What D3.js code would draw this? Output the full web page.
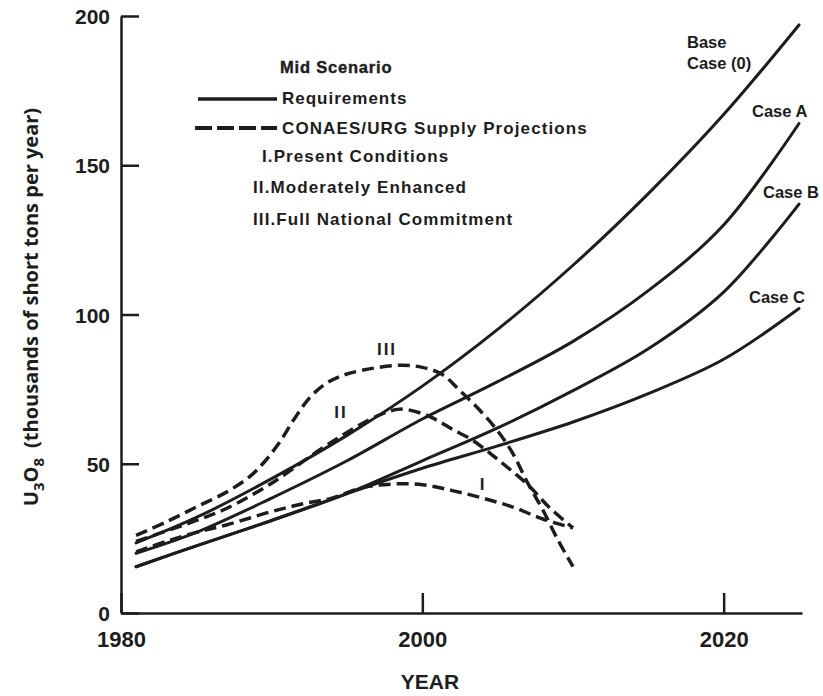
<!DOCTYPE html>
<html>
<head>
<meta charset="utf-8">
<script src="https://cdn.jsdelivr.net/npm/d3@7"></script>
<style>
  body { margin: 0; background: #fff; }
  svg { display: block; }
  text { font-family: "Liberation Sans", Arial, Helvetica, sans-serif; font-weight: bold; fill: #1d1d1d; }
</style>
</head>
<body>
<svg id="chart" width="823" height="696"></svg>
<script>
// Uranium (U3O8) requirements, mid scenario, vs. CONAES/URG supply projections
const reqYears = [1981, 1985, 1990, 1995, 2000, 2005, 2010, 2015, 2020, 2025];
const baseCase = [23.5, 32, 45, 59.5, 76, 95, 116.5, 140.5, 167, 197];
const caseA    = [20, 27, 38.5, 51, 65, 77.5, 91, 108, 130, 164];
const caseB    = [15.5, 22.5, 31, 40, 51, 62, 74.5, 88.5, 107.5, 137];
const caseC    = [15.5, 22.5, 31, 40, 48.5, 56, 64, 73.5, 85, 102];

// Supply projections
const supplyIYears   = [1981, 1983, 1985, 1987, 1990, 1992, 1994, 1996, 1998, 2000, 2002, 2004, 2006, 2008, 2010];
const supplyI        = [20.5, 24, 27, 29.5, 34, 36.5, 38.5, 42, 43.2, 43, 41, 38.5, 35.5, 31.5, 28.5];
const supplyIIYears  = [1981, 1985, 1987, 1990, 1993, 1995, 1997, 1998.5, 2000, 2001, 2002, 2003.3, 2004.5, 2005.6, 2007, 2008.4, 2010];
const supplyII       = [24, 31, 35, 43.5, 54, 60.5, 66, 68.3, 66.8, 64.5, 61.5, 58, 53.5, 49, 43, 35.5, 28.5];
const supplyIIIYears = [1981, 1983, 1985, 1987, 1988.5, 1989.5, 1990.5, 1991.5, 1992.5, 1993.5, 1994.5, 1996, 1998.5, 2000, 2001.3, 2002.5, 2003.8, 2005, 2006, 2007, 2008, 2009, 2010];
const supplyIII      = [26, 30.5, 35.5, 40.5, 45.5, 50.5, 57, 65, 72, 76.5, 79.2, 81.3, 83, 82.3, 80, 74.5, 68, 61, 53.5, 43.5, 34.5, 24.5, 15.5];

const xTicks = [1980, 2000, 2020];
const yTicks = [0, 50, 100, 150, 200];

const legendItems = ["I.Present Conditions", "II.Moderately Enhanced", "III.Full National Commitment"];

const ink = "#1d1d1d";
const svg = d3.select("#chart");

const x = d3.scaleLinear().domain([1980, 2025.2]).range([121, 802]);
const y = d3.scaleLinear().domain([0, 200]).range([613, 16]);

// Axes with inward ticks
const gx = svg.append("g")
  .attr("transform", `translate(0,${y(0)})`)
  .call(d3.axisBottom(x).tickValues(xTicks).tickSize(-20).tickSizeOuter(0).tickFormat(d3.format("d")));
gx.select(".domain").attr("stroke", ink).attr("stroke-width", 2.5);
gx.selectAll(".tick line").attr("stroke", ink).attr("stroke-width", 2.5);
gx.selectAll(".tick text").attr("y", 34).attr("dy", 0).attr("font-size", 22).attr("fill", ink);

const gy = svg.append("g")
  .attr("transform", `translate(${x(1980)},0)`)
  .call(d3.axisLeft(y).tickValues(yTicks).tickSize(-18).tickSizeOuter(0));
gy.select(".domain").attr("stroke", ink).attr("stroke-width", 2.5);
gy.selectAll(".tick line").attr("stroke", ink).attr("stroke-width", 2.5);
gy.selectAll(".tick text").attr("x", -11).attr("dy", "0.36em").attr("font-size", 21).attr("fill", ink);

// Axis titles
svg.append("text")
  .attr("x", 430).attr("y", 689)
  .attr("text-anchor", "middle")
  .attr("font-size", 21)
  .text("YEAR");

const yTitle = svg.append("text")
  .attr("transform", "translate(38,307) rotate(-90)")
  .attr("text-anchor", "middle")
  .style("font-family", "'Open Sans', 'Liberation Sans', sans-serif")
  .attr("font-size", 20);
yTitle.append("tspan").text("U");
yTitle.append("tspan").attr("dy", 6).attr("font-size", 15).text("3");
yTitle.append("tspan").attr("dy", -6).text("O");
yTitle.append("tspan").attr("dy", 6).attr("font-size", 15).text("8");
yTitle.append("tspan").attr("dy", -6).text("\u2002(thousands of short tons per year)");

// Curves
const smoothLine = d3.line()
  .x(d => x(d[0]))
  .y(d => y(d[1]))
  .curve(d3.curveCatmullRom.alpha(0.5));

const requirements = [baseCase, caseA, caseB, caseC];
svg.append("g").selectAll("path")
  .data(requirements)
  .join("path")
  .attr("d", vals => smoothLine(reqYears.map((yr, i) => [yr, vals[i]])))
  .attr("fill", "none")
  .attr("stroke", ink)
  .attr("stroke-width", 3)
  .attr("stroke-linecap", "round");

const supplies = [
  [supplyIYears, supplyI],
  [supplyIIYears, supplyII],
  [supplyIIIYears, supplyIII]
];
svg.append("g").selectAll("path")
  .data(supplies)
  .join("path")
  .attr("d", ([yrs, vals]) => smoothLine(yrs.map((yr, i) => [yr, vals[i]])))
  .attr("fill", "none")
  .attr("stroke", ink)
  .attr("stroke-width", 3.5)
  .attr("stroke-dasharray", "12,6");

// Curve labels
const caseLabels = [
  { t: "Base", x: 687, y: 48 },
  { t: "Case (0)", x: 687, y: 69 },
  { t: "Case A", x: 752, y: 117 },
  { t: "Case B", x: 763, y: 198 },
  { t: "Case C", x: 749, y: 303 }
];
svg.append("g").selectAll("text")
  .data(caseLabels)
  .join("text")
  .attr("x", d => d.x).attr("y", d => d.y)
  .attr("font-size", 16.5)
  .text(d => d.t);

const romanLabels = [
  { t: "III", x: 387, y: 355 },
  { t: "II", x: 341, y: 418 },
  { t: "I", x: 483, y: 490 }
];
svg.append("g").selectAll("text")
  .data(romanLabels)
  .join("text")
  .attr("x", d => d.x).attr("y", d => d.y)
  .attr("text-anchor", "middle")
  .attr("font-size", 17)
  .style("letter-spacing", "2px")
  .text(d => d.t);

// Legend
const lg = svg.append("g");
lg.append("text")
  .attr("x", 280).attr("y", 73)
  .attr("font-size", 16.5)
  .attr("stroke", ink).attr("stroke-width", 0.4)
  .style("letter-spacing", "0.8px")
  .text("Mid Scenario");
lg.append("line")
  .attr("x1", 198).attr("x2", 277).attr("y1", 99).attr("y2", 99)
  .attr("stroke", ink).attr("stroke-width", 3.5);
lg.append("text")
  .attr("x", 282).attr("y", 104)
  .attr("font-size", 17)
  .style("letter-spacing", "1px")
  .text("Requirements");
lg.append("line")
  .attr("x1", 195).attr("x2", 277).attr("y1", 128).attr("y2", 128)
  .attr("stroke", ink).attr("stroke-width", 4)
  .attr("stroke-dasharray", "17,5");
lg.append("text")
  .attr("x", 282).attr("y", 134)
  .attr("font-size", 17)
  .style("letter-spacing", "1.1px")
  .text("CONAES/URG Supply Projections");

const legendPos = [{ x: 262, y: 162 }, { x: 253, y: 193 }, { x: 253, y: 225 }];
lg.selectAll("text.item")
  .data(legendItems)
  .join("text")
  .attr("class", "item")
  .attr("x", (d, i) => legendPos[i].x)
  .attr("y", (d, i) => legendPos[i].y)
  .attr("font-size", 17)
  .style("letter-spacing", "1.1px")
  .text(d => d);
</script>
</body>
</html>
